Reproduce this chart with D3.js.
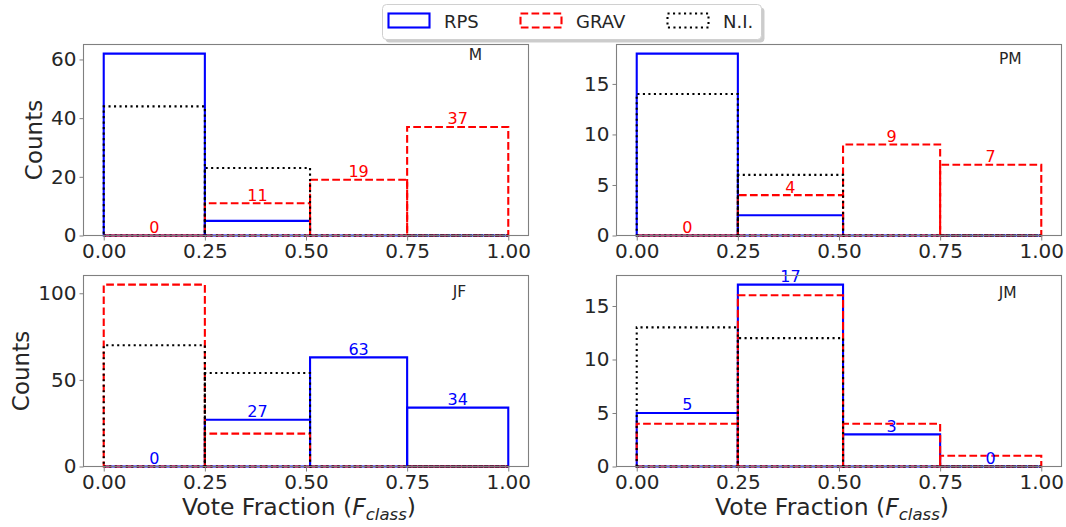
<!DOCTYPE html>
<html>
<head>
<meta charset="utf-8">
<script src="https://cdn.jsdelivr.net/npm/d3@7"></script>
<style>
  body { margin: 0; background: #fff; }
  svg { display: block; }
  text { font-family: "DejaVu Sans", sans-serif; }
</style>
</head>
<body>
<svg id="chart" width="1066" height="527"></svg>
<script>
// ---- data ----
const binEdges = [0, 0.25, 0.51, 0.75, 1.0];
const xTickValues = [0, 0.25, 0.5, 0.75, 1.0];
const panelNames = ["M", "PM", "JF", "JM"];
const seriesNames = ["RPS", "GRAV", "N.I."];
// counts per panel (rows follow panelNames), one value per bin
const rpsCounts  = [[62, 5, 0, 0], [18, 2, 0, 0], [0, 27, 63, 34], [5, 17, 3, 0]];
const gravCounts = [[0, 11, 19, 37], [0, 4, 9, 7], [105, 19, 0, 0], [4, 16, 4, 1]];
const niCounts   = [[44, 23, 0, 0], [14, 6, 0, 0], [70, 54, 0, 0], [13, 12, 0, 0]];
// which series carries the value labels in each panel
const labelledSeries = ["GRAV", "GRAV", "RPS", "RPS"];
const yTickValues = [[0, 20, 40, 60], [0, 5, 10, 15], [0, 50, 100], [0, 5, 10, 15]];

// ---- styling / layout ----
const seriesStyle = {
  "RPS":  { color: "#0000ff", dash: null },
  "GRAV": { color: "#ff0000", dash: "7.7,3.3" },
  "N.I.": { color: "#000000", dash: "2.1,3.4" }
};
const seriesCounts = { "RPS": rpsCounts, "GRAV": gravCounts, "N.I.": niCounts };

const frames = [
  { x: 83.5,  y: 44.5,  w: 445, h: 191 },
  { x: 616.5, y: 44.5,  w: 445, h: 191 },
  { x: 83.5,  y: 275.5, w: 445, h: 191 },
  { x: 616.5, y: 275.5, w: 445, h: 191 }
];
// panel name placement in axes fractions (centre x, baseline from top)
const nameSpots = [[0.881, 0.080], [0.885, 0.101], [0.845, 0.114], [0.879, 0.120]];

const spineColor = "#808080";
const textColor = "#262626";

const svg = d3.select("#chart");

panelNames.forEach((name, p) => {
  const f = frames[p];
  const g = svg.append("g");

  const allVals = seriesNames.flatMap(s => seriesCounts[s][p]);
  const ymax = d3.max(allVals) * 1.05;
  const x = d3.scaleLinear().domain([-0.05, 1.05]).range([f.x, f.x + f.w]);
  const y = d3.scaleLinear().domain([0, ymax]).range([f.y + f.h, f.y]);

  // histogram bars, outlines only, one rectangle per bin
  seriesNames.forEach(s => {
    const st = seriesStyle[s];
    const vals = seriesCounts[s][p];
    vals.forEach((v, i) => {
      const x0 = x(binEdges[i]), x1 = x(binEdges[i + 1]);
      const yb = y(0), yt = y(v);
      const path = d3.path();
      path.moveTo(x0, yb);
      path.lineTo(x1, yb);
      path.lineTo(x1, yt);
      path.lineTo(x0, yt);
      path.closePath();
      g.append("path")
        .attr("d", path.toString())
        .attr("fill", "none")
        .attr("stroke", st.color)
        .attr("stroke-width", 2.1)
        .attr("stroke-dasharray", st.dash);
    });
  });

  // value labels
  const ls = labelledSeries[p];
  seriesCounts[ls][p].forEach((v, i) => {
    const cx = x((binEdges[i] + binEdges[i + 1]) / 2);
    g.append("text")
      .attr("x", cx)
      .attr("y", y(v) - 2.5)
      .attr("text-anchor", "middle")
      .attr("font-size", 16)
      .attr("fill", seriesStyle[ls].color)
      .text(v);
  });

  // frame
  g.append("rect")
    .attr("x", f.x).attr("y", f.y).attr("width", f.w).attr("height", f.h)
    .attr("fill", "none").attr("stroke", spineColor).attr("stroke-width", 1.1);

  // x axis
  const xAxis = d3.axisBottom(x).tickValues(xTickValues)
    .tickFormat(d3.format(".2f")).tickSize(5).tickPadding(3);
  const xa = g.append("g").attr("transform", `translate(0,${f.y + f.h})`).call(xAxis);
  xa.select(".domain").remove();
  xa.selectAll(".tick line").attr("stroke", spineColor);
  xa.selectAll(".tick text").attr("font-size", 20).attr("fill", textColor)
    .attr("font-family", "DejaVu Sans");

  // y axis
  const yAxis = d3.axisLeft(y).tickValues(yTickValues[p]).tickSize(4).tickPadding(3);
  const ya = g.append("g").attr("transform", `translate(${f.x},0)`).call(yAxis);
  ya.select(".domain").remove();
  ya.selectAll(".tick line").attr("stroke", spineColor);
  ya.selectAll(".tick text").attr("font-size", 20).attr("fill", textColor)
    .attr("font-family", "DejaVu Sans");

  // panel name
  g.append("text")
    .attr("x", f.x + nameSpots[p][0] * f.w)
    .attr("y", f.y + nameSpots[p][1] * f.h)
    .attr("text-anchor", "middle")
    .attr("font-size", 15.5)
    .attr("fill", textColor)
    .text(name);

  // axis titles
  if (p % 2 === 0) {
    const bx = p === 0 ? 41.5 : 28.5;
    g.append("text")
      .attr("transform", `translate(${bx},${f.y + f.h / 2}) rotate(-90)`)
      .attr("text-anchor", "middle")
      .attr("font-size", 23)
      .attr("fill", textColor)
      .text("Counts");
  }
  if (p >= 2) {
    const t = g.append("text")
      .attr("x", f.x + f.w / 2 - 7)
      .attr("y", 515)
      .attr("text-anchor", "middle")
      .attr("font-size", 23.5)
      .attr("fill", textColor);
    t.append("tspan").text("Vote Fraction (");
    t.append("tspan").attr("font-style", "italic").text("F");
    t.append("tspan").attr("font-style", "italic").attr("font-size", 16.5).attr("dy", 5).text("class");
    t.append("tspan").attr("dy", -5).text(")");
  }
});

// ---- legend ----
const lg = svg.append("g");
lg.append("rect")
  .attr("x", 385.5).attr("y", 7.5).attr("width", 379).attr("height", 35).attr("rx", 4)
  .attr("fill", "#000").attr("opacity", 0.2);
lg.append("rect")
  .attr("x", 382.5).attr("y", 4.5).attr("width", 379).attr("height", 35).attr("rx", 4)
  .attr("fill", "#fff").attr("stroke", "#d0d0d0").attr("stroke-width", 1);
const legendSlots = [388.5, 520.5, 667.5];
seriesNames.forEach((s, i) => {
  const st = seriesStyle[s];
  lg.append("rect")
    .attr("x", legendSlots[i]).attr("y", 13.5).attr("width", 41).attr("height", 14)
    .attr("fill", "none").attr("stroke", st.color).attr("stroke-width", 2.1)
    .attr("stroke-dasharray", st.dash);
  lg.append("text")
    .attr("x", legendSlots[i] + 55.5).attr("y", 27.5)
    .attr("font-size", 18).attr("fill", textColor)
    .text(s);
});
</script>
</body>
</html>
